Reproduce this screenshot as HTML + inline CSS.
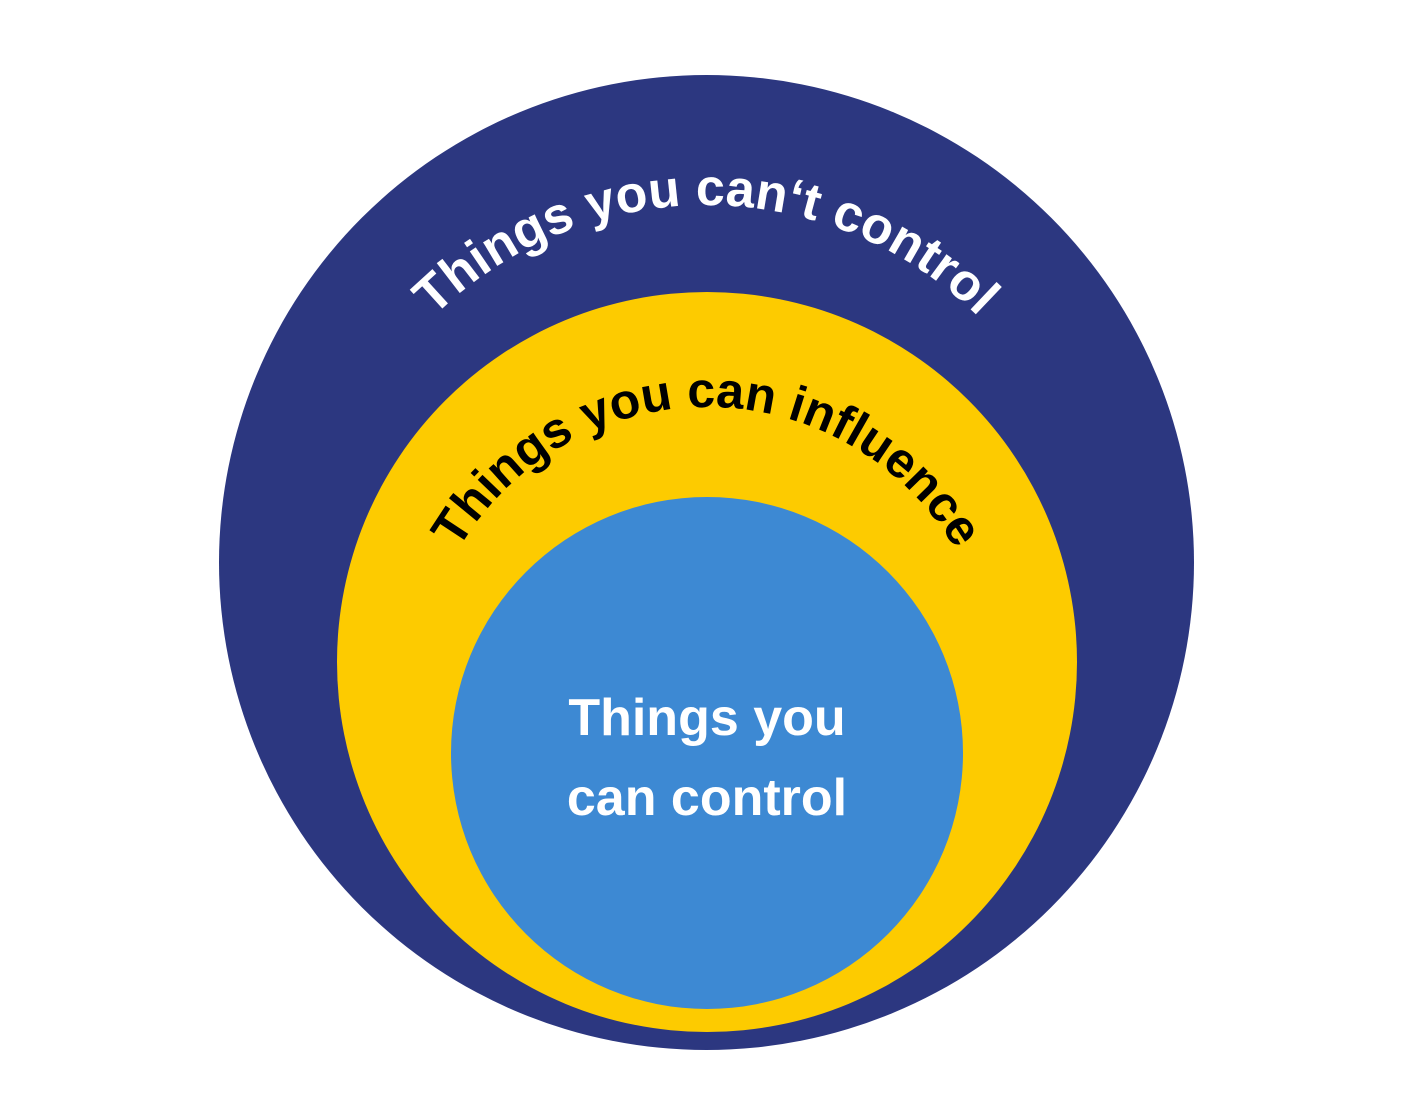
<!DOCTYPE html>
<html><head><meta charset="utf-8"><style>
html,body{margin:0;padding:0;background:#fff;}
svg{display:block;}
</style></head><body>
<svg width="1413" height="1093" viewBox="0 0 1413 1093" xmlns="http://www.w3.org/2000/svg">
<defs>
<path id="p1" d="M 318 593 A 388 388 0 0 1 1094 593"/>
<path id="p2" d="M 419 695 A 288 288 0 0 1 995 695"/>
</defs>
<circle cx="706.5" cy="562.5" r="487.5" fill="#2c3780"/>
<circle cx="707" cy="662" r="370" fill="#fdcb00"/>
<circle cx="707" cy="753" r="256" fill="#3d89d3"/>
<text font-family="Liberation Sans, sans-serif" font-weight="bold" font-size="52" fill="#fff" letter-spacing="0">
<textPath href="#p1" startOffset="50%" text-anchor="middle">Things you can‘t control</textPath></text>
<text font-family="Liberation Sans, sans-serif" font-weight="bold" font-size="50" fill="#000" letter-spacing="0">
<textPath href="#p2" startOffset="50%" text-anchor="middle">Things you can influence</textPath></text>
<text x="707" y="735" text-anchor="middle" font-family="Liberation Sans, sans-serif" font-weight="bold" font-size="52" fill="#fff">Things you</text>
<text x="707" y="815" text-anchor="middle" font-family="Liberation Sans, sans-serif" font-weight="bold" font-size="52" fill="#fff">can control</text>
</svg>
</body></html>
